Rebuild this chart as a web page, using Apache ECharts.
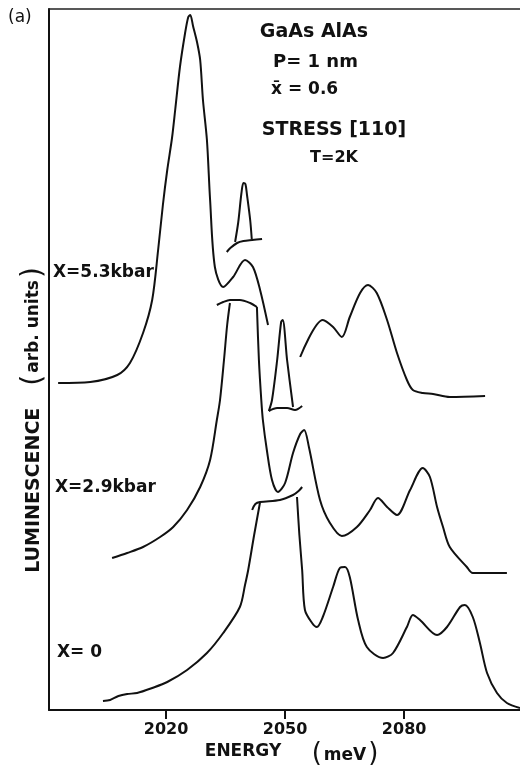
<!DOCTYPE html>
<html>
<head>
<meta charset="utf-8">
<script src="https://cdn.jsdelivr.net/npm/echarts@6/dist/echarts.min.js"></script>
<style>
  html, body { margin: 0; padding: 0; background: #fff; }
  #chart { width: 520px; height: 769px; }
</style>
</head>
<body>
<div id="chart"></div>
<script>
// energy (meV), luminescence (arb. units)
const energyTicks = [2020, 2050, 2080];

// X = 5.3 kbar
const x53Main = [[1992.8, 327], [2000.9, 328], [2007.7, 335], [2010.9, 347], [2014.2, 377], [2016.5, 410],
  [2018.0, 460], [2019.2, 505], [2020.3, 540], [2021.5, 572], [2022.3, 600], [2023.5, 643], [2024.8, 677],
  [2025.6, 693], [2026.1, 695], [2026.8, 684], [2027.8, 668], [2028.6, 650], [2029.3, 610], [2030.3, 570],
  [2031.1, 510], [2032.3, 443], [2034.4, 423], [2036.9, 433], [2039.9, 450], [2041.9, 443], [2043.7, 420],
  [2045.7, 385]];
const x53Tail = [[2053.8, 353], [2059.5, 390], [2062.1, 383], [2064.3, 373], [2066.3, 393], [2068.9, 417],
  [2070.9, 425], [2073.1, 417], [2075.7, 390], [2078.2, 357], [2080.7, 330], [2082.2, 320], [2084.7, 317],
  [2087.3, 316], [2091.5, 313], [2100.4, 314]];
const x53Peak = [[2037.4, 468], [2038.2, 488], [2039.0, 517], [2039.5, 527], [2040.0, 526], [2040.4, 515],
  [2041.2, 490], [2041.6, 471]];
const x53PeakBase = [[2035.3, 458], [2036.2, 462], [2037.9, 467], [2039.5, 469], [2041.7, 470], [2044.2, 471]];

// X = 2.9 kbar
const x29Rise = [[2006.4, 152], [2010.2, 157], [2014.2, 163], [2018.5, 173], [2021.8, 183], [2025.3, 200],
  [2028.6, 223], [2031.1, 250], [2032.8, 290], [2033.6, 310], [2034.6, 350], [2035.4, 385], [2036.1, 407]];
const x29Cap = [[2032.8, 405], [2034.4, 408], [2036.1, 410], [2038.6, 410], [2041.2, 407], [2042.9, 403]];
const x29Fall = [[2042.9, 403], [2043.4, 350], [2044.0, 310], [2044.4, 290], [2045.4, 260], [2046.7, 230],
  [2048.2, 218], [2050.0, 227], [2052.0, 257], [2053.8, 276], [2054.8, 280], [2056.0, 263], [2058.8, 210],
  [2061.3, 187], [2064.3, 174], [2068.1, 183], [2071.4, 200], [2073.4, 212], [2075.7, 203], [2078.2, 195],
  [2081.5, 220], [2084.7, 242], [2086.5, 233], [2088.3, 203], [2089.8, 183], [2091.5, 163], [2095.8, 143],
  [2097.3, 137], [2105.9, 137]];
const x29Peak = [[2045.9, 299], [2046.7, 310], [2048.0, 350], [2049.0, 388], [2049.4, 390], [2050.5, 350],
  [2052.0, 303]];
const x29PeakBase = [[2045.9, 299], [2048.0, 302], [2050.5, 302], [2052.5, 300], [2054.3, 304]];

// X = 0
const x0Rise = [[2004.1, 9], [2005.9, 10], [2008.0, 14], [2010.2, 16], [2012.7, 17], [2016.5, 22],
  [2020.3, 28], [2025.3, 40], [2030.3, 57], [2034.4, 77], [2038.6, 103], [2039.9, 125], [2040.7, 140],
  [2042.2, 175], [2043.7, 208]];
const x0Cap = [[2041.7, 200], [2042.5, 206], [2043.7, 208], [2048.7, 210], [2052.0, 215], [2053.4, 219],
  [2054.3, 223]];
const x0Fall = [[2053.0, 213], [2053.6, 175], [2054.3, 140], [2055.0, 100], [2056.8, 87],
  [2058.0, 83], [2059.5, 93], [2062.1, 123], [2063.8, 142], [2065.1, 143], [2066.3, 133], [2068.4, 90],
  [2070.6, 63], [2074.7, 52], [2077.2, 57], [2080.7, 83], [2082.2, 95], [2084.0, 90], [2088.3, 75],
  [2090.8, 83], [2094.1, 103], [2095.3, 105], [2097.3, 93], [2099.1, 67], [2100.9, 37], [2103.4, 17],
  [2105.9, 7], [2109.2, 2]];

const segments = [x53Main, x53Tail, x53Peak, x53PeakBase, x29Rise, x29Cap, x29Fall, x29Peak, x29PeakBase,
  x0Rise, x0Cap, x0Fall];

const chart = echarts.init(document.getElementById('chart'));

function font(size, weight) {
  return (weight || 'bold') + ' ' + size + 'px "DejaVu Sans", sans-serif';
}
function label(text, x, y, size, align, weight) {
  return {
    type: 'text', x: x, y: y, silent: true,
    style: { text: text, font: font(size, weight), fill: '#111', align: align || 'left', verticalAlign: 'middle' }
  };
}

const option = {
  animation: false,
  backgroundColor: '#fff',
  grid: { left: 49, right: 0, top: 9, bottom: 59 },
  xAxis: [
    {
      type: 'value', min: 1990.5, max: 2109.2,
      axisLine: { lineStyle: { color: '#111', width: 2 } },
      axisTick: { customValues: energyTicks, length: 9, lineStyle: { color: '#111', width: 2 } },
      axisLabel: {
        customValues: energyTicks, margin: 12, color: '#111',
        fontFamily: 'DejaVu Sans', fontWeight: 'bold', fontSize: 16,
        formatter: function (v) { return String(v); }
      },
      splitLine: { show: false }
    },
    {
      type: 'value', min: 1990.5, max: 2109.2, position: 'top',
      axisLine: { show: true, lineStyle: { color: '#222', width: 1.5 } },
      axisTick: { show: false }, axisLabel: { show: false }, splitLine: { show: false }
    }
  ],
  yAxis: {
    type: 'value', min: 0, max: 701,
    axisLine: { show: true, lineStyle: { color: '#111', width: 2 } },
    axisTick: { show: false }, axisLabel: { show: false }, splitLine: { show: false }
  },
  series: segments.map(function (d) {
    return {
      type: 'line', data: d, symbol: 'none', smooth: 0.3, silent: true,
      lineStyle: { color: '#111', width: 2 }
    };
  }),
  graphic: [
    label('(a)', 8, 18, 17, 'left', 'normal'),
    label('GaAs AlAs', 314, 32, 19, 'center'),
    label('P= 1 nm', 273, 62, 18),
    label('x\u0304 = 0.6', 271, 90, 17),
    label('STRESS [110]', 334, 130, 19, 'center'),
    label('T=2K', 334, 158, 16, 'center'),
    label('X=5.3kbar', 53, 273, 17),
    label('X=2.9kbar', 55, 488, 17),
    label('X= 0', 57, 653, 17),
    label('ENERGY', 243, 752, 17, 'center'),
    {
      type: 'text', x: 345, y: 754, silent: true,
      style: {
        text: '{p|(}{t|meV}{p|)}', align: 'center', verticalAlign: 'middle', fill: '#111',
        rich: {
          p: { font: font(26, 'normal'), fill: '#111' },
          t: { font: font(17), fill: '#111', padding: [4, 2, 0, 2] }
        }
      }
    },
    {
      type: 'text', x: 34, y: 420, rotation: Math.PI / 2, silent: true,
      style: {
        text: '{t|LUMINESCENCE}{s| }{p|(}{u|arb. units}{p|)}', align: 'center', verticalAlign: 'middle', fill: '#111',
        rich: {
          p: { font: font(28, 'normal'), fill: '#111' },
          s: { font: font(19), fill: '#111', width: 22 },
          t: { font: font(19), fill: '#111' },
          u: { font: font(17), fill: '#111', padding: [0, 2, 0, 2] }
        }
      }
    }
  ]
};

chart.setOption(option);
</script>
</body>
</html>
